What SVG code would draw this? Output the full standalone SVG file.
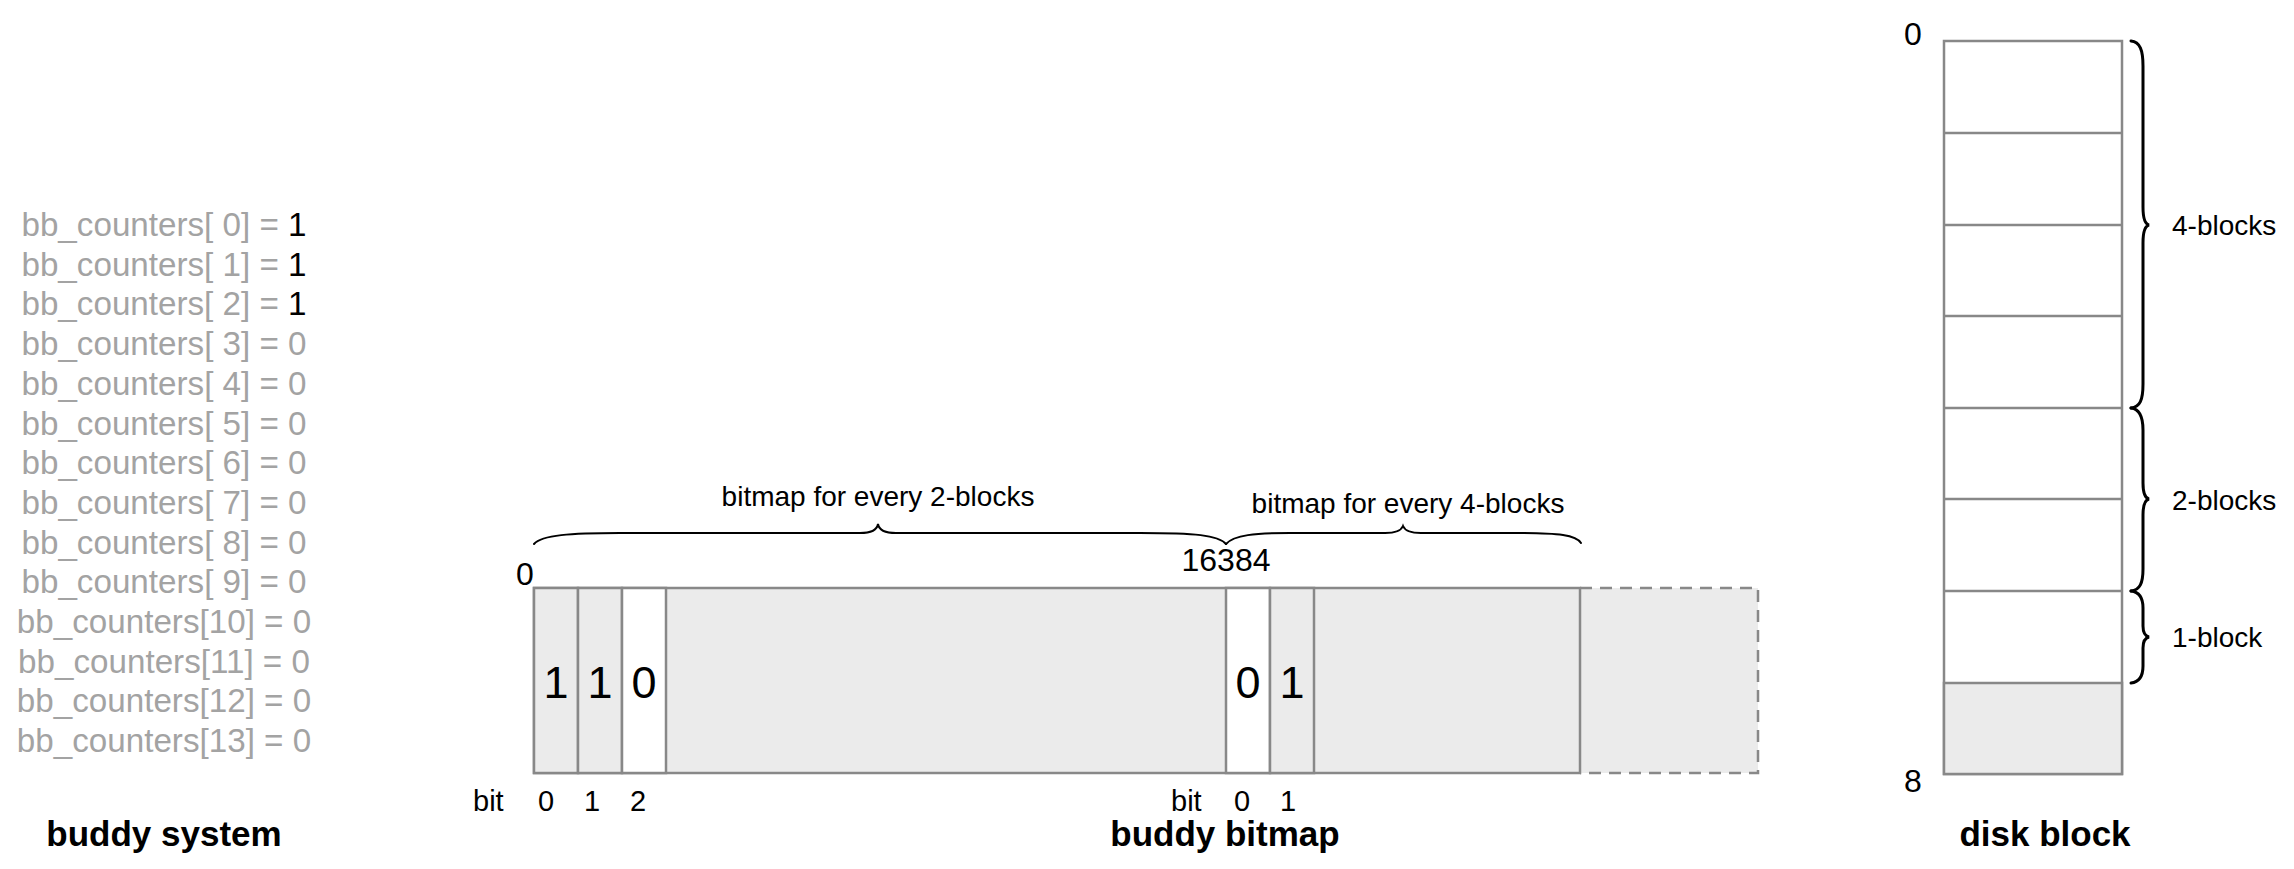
<svg xmlns="http://www.w3.org/2000/svg" width="2294" height="869" viewBox="0 0 2294 869">
<style>
text{font-family:"Liberation Sans",Arial,sans-serif;}
.cnt{font-size:33.2px;fill:#a3a3a3;text-anchor:middle;}
.blk{fill:#000;}
.title{font-size:35px;font-weight:bold;fill:#000;text-anchor:middle;}
.lbl{font-size:28px;fill:#000;}
.mid{text-anchor:middle;}
.bitl{font-size:29px;fill:#000;}
.num{font-size:32px;fill:#000;text-anchor:middle;}
.bitv{font-size:45px;fill:#000;text-anchor:middle;}
.cell{stroke:#888;stroke-width:2.5;}
.g{fill:#ebebeb;}
.w{fill:#fff;}
.brace{fill:none;stroke:#000;stroke-width:2;stroke-linecap:round;}
.vbrace{fill:none;stroke:#000;stroke-width:3;stroke-linecap:round;}
</style>

<g id="buddy-system">
<text class="cnt" x="164" y="236">bb_counters[ 0] = <tspan class="blk">1</tspan></text>
<text class="cnt" x="164" y="275.7">bb_counters[ 1] = <tspan class="blk">1</tspan></text>
<text class="cnt" x="164" y="315.4">bb_counters[ 2] = <tspan class="blk">1</tspan></text>
<text class="cnt" x="164" y="355.1">bb_counters[ 3] = 0</text>
<text class="cnt" x="164" y="394.8">bb_counters[ 4] = 0</text>
<text class="cnt" x="164" y="434.5">bb_counters[ 5] = 0</text>
<text class="cnt" x="164" y="474.2">bb_counters[ 6] = 0</text>
<text class="cnt" x="164" y="513.9">bb_counters[ 7] = 0</text>
<text class="cnt" x="164" y="553.6">bb_counters[ 8] = 0</text>
<text class="cnt" x="164" y="593.3">bb_counters[ 9] = 0</text>
<text class="cnt" x="164" y="633">bb_counters[10] = 0</text>
<text class="cnt" x="164" y="672.7">bb_counters[11] = 0</text>
<text class="cnt" x="164" y="712.4">bb_counters[12] = 0</text>
<text class="cnt" x="164" y="752.1">bb_counters[13] = 0</text>
<text class="title" x="164" y="846">buddy system</text>
</g>

<g id="buddy-bitmap">
<rect class="g" x="1580" y="588" width="178" height="185"/>
<path d="M1580,588 H1758 V773 H1580" fill="none" stroke="#888" stroke-width="2.5" stroke-dasharray="12 8"/>
<rect class="cell g" x="534" y="588" width="1046" height="185"/>
<rect class="cell g" x="534" y="588" width="44" height="185"/>
<rect class="cell g" x="578" y="588" width="44" height="185"/>
<rect class="cell w" x="622" y="588" width="44" height="185"/>
<rect class="cell w" x="1226" y="588" width="44" height="185"/>
<rect class="cell g" x="1270" y="588" width="44" height="185"/>
<text class="bitv" x="556" y="698">1</text>
<text class="bitv" x="600" y="698">1</text>
<text class="bitv" x="644" y="698">0</text>
<text class="bitv" x="1248" y="698">0</text>
<text class="bitv" x="1292" y="698">1</text>
<text class="num" x="525" y="585">0</text>
<text class="num" x="1226" y="571">16384</text>
<text class="lbl mid" x="878" y="506">bitmap for every 2-blocks</text>
<text class="lbl mid" x="1408" y="513">bitmap for every 4-blocks</text>
<text class="bitl" x="473" y="811">bit</text>
<text class="bitl mid" x="546" y="811">0</text>
<text class="bitl mid" x="592" y="811">1</text>
<text class="bitl mid" x="638" y="811">2</text>
<text class="bitl" x="1171" y="811">bit</text>
<text class="bitl mid" x="1242" y="811">0</text>
<text class="bitl mid" x="1288" y="811">1</text>
<text class="title" x="1225" y="846">buddy bitmap</text>
</g>

<g id="disk-block">
<rect class="cell w" x="1944" y="41" width="178" height="733"/>
<rect class="cell g" x="1944" y="683" width="178" height="91"/>
<line class="cell" x1="1944" y1="133" x2="2122" y2="133"/>
<line class="cell" x1="1944" y1="225" x2="2122" y2="225"/>
<line class="cell" x1="1944" y1="316" x2="2122" y2="316"/>
<line class="cell" x1="1944" y1="408" x2="2122" y2="408"/>
<line class="cell" x1="1944" y1="499" x2="2122" y2="499"/>
<line class="cell" x1="1944" y1="591" x2="2122" y2="591"/>
<text class="num" x="1913" y="45" font-size="30">0</text>
<text class="num" x="1913" y="792" font-size="30">8</text>
<text class="lbl" x="2172" y="235">4-blocks</text>
<text class="lbl" x="2172" y="510">2-blocks</text>
<text class="lbl" x="2172" y="647">1-block</text>
<text class="title" x="2045" y="846">disk block</text>
</g>

<g id="connectors">
<path class="brace" d="M534,544 C542,535 570,533 620,533 L860,533 C872,533 877,530 878,524 C879,530 884,533 896,533 L1140,533 C1195,533 1218,535 1226,544"/>
<path class="brace" d="M1226,544 C1234,535 1255,533 1290,533 L1385,533 C1396,533 1401,531 1403,526 C1405,531 1410,533 1421,533 L1515,533 C1560,533 1576,535 1581,543"/>
<path class="vbrace" d="M2131,41 C2140,42 2143,50 2143,66 L2143,207 C2143,219 2145,224 2149,225 C2145,226 2143,231 2143,243 L2143,384 C2143,400 2140,407 2131,408"/>
<path class="vbrace" d="M2131,408 C2140,409 2143,417 2143,430 L2143,483 C2143,494 2145,498 2149,499 C2145,500 2143,504 2143,515 L2143,569 C2143,583 2140,590 2131,591"/>
<path class="vbrace" d="M2131,591 C2140,592 2143,598 2143,608 L2143,626 C2143,633 2145,636 2149,637 C2145,638 2143,641 2143,648 L2143,666 C2143,676 2140,682 2131,683"/>
</g>
</svg>
